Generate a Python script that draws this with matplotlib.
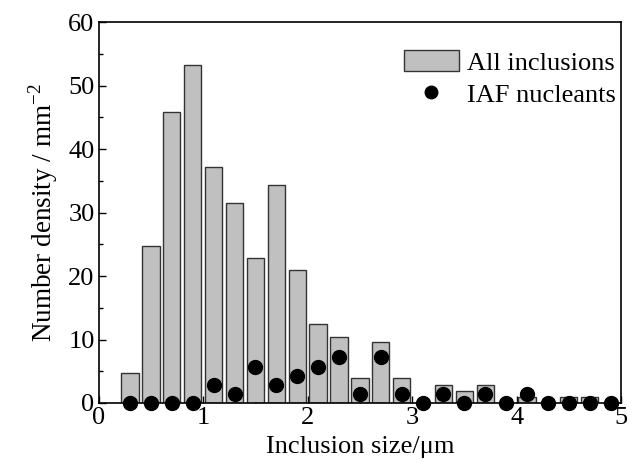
"""
Inclusion size distribution: all inclusions vs IAF nucleants.
"""

import matplotlib
matplotlib.use('Agg')
import matplotlib.pyplot as plt
from matplotlib.ticker import MultipleLocator

plt.rcParams['font.family'] = ['Liberation Serif', 'DejaVu Serif']
plt.rcParams['mathtext.fontset'] = 'custom'
plt.rcParams['mathtext.rm'] = 'Liberation Serif'

# Bin centres (um)
sizes = [0.3, 0.5, 0.7, 0.9, 1.1, 1.3, 1.5, 1.7, 1.9, 2.1, 2.3, 2.5,
         2.7, 2.9, 3.1, 3.3, 3.5, 3.7, 3.9, 4.1, 4.3, 4.5, 4.7, 4.9]

# Number density, all inclusions (mm^-2)
all_inclusions = [4.7, 24.8, 45.8, 53.3, 37.2, 31.5, 22.8, 34.3, 21.0, 12.4, 10.4, 3.9,
                  9.6, 3.9, 0.0, 2.9, 1.9, 2.9, 0.0, 1.0, 0.0, 1.0, 1.0, 0.0]

# Number density, IAF nucleants (mm^-2)
iaf_nucleants = [0.0, 0.0, 0.0, 0.0, 2.9, 1.4, 5.7, 2.9, 4.3, 5.7, 7.2, 1.4,
                 7.2, 1.4, 0.0, 1.4, 0.0, 1.4, 0.0, 1.4, 0.0, 0.0, 0.0, 0.0]

fig = plt.figure(figsize=(6.37, 4.73), dpi=100)
ax = fig.add_axes([0.155, 0.148, 0.82, 0.805])

bars = ax.bar(sizes, all_inclusions, width=0.165, color='#c0c0c0', edgecolor='#333333',
              linewidth=1.0, label='All inclusions', zorder=2)
dots, = ax.plot(sizes, iaf_nucleants, 'o', color='black', markersize=10,
                label='IAF nucleants', zorder=3, clip_on=False)

ax.set_xlim(0, 5)
ax.set_ylim(0, 60)
ax.xaxis.set_major_locator(MultipleLocator(1))
ax.xaxis.set_minor_locator(MultipleLocator(0.5))
ax.yaxis.set_major_locator(MultipleLocator(10))
ax.yaxis.set_minor_locator(MultipleLocator(5))
ax.tick_params(which='both', direction='in', top=False, right=False, labelsize=19)
ax.tick_params(which='major', length=5, width=1, pad=3)
ax.tick_params(which='minor', length=3, width=1)
for spine in ax.spines.values():
    spine.set_linewidth(1.2)

ax.set_xlabel('Inclusion size/\u03bcm', fontsize=19, labelpad=5)
ax.set_ylabel('Number density / mm$^{-2}$', fontsize=19.5, labelpad=6)

ax.legend([bars, dots], ['All inclusions', 'IAF nucleants'], loc='upper right',
          bbox_to_anchor=(1.005, 0.947), frameon=False, fontsize=19,
          handlelength=2.1, handleheight=0.8, handletextpad=0.3,
          borderaxespad=0.0, labelspacing=0.3, borderpad=0.3, markerscale=0.9)

plt.savefig('out.png', dpi=100)
plt.close()
